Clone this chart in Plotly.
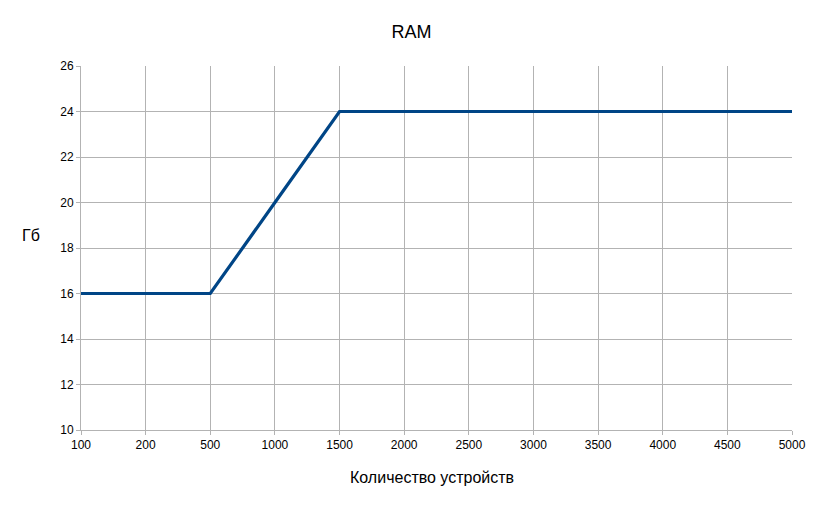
import plotly.graph_objects as go

devices = ["100", "200", "500", "1000", "1500", "2000", "2500", "3000", "3500", "4000", "4500", "5000"]
ram_gb = [16, 16, 16, 20, 24, 24, 24, 24, 24, 24, 24, 24]
y_ticks = [10, 12, 14, 16, 18, 20, 22, 24, 26]

grid = "#b3b3b3"
font = "Liberation Sans, Arial, sans-serif"

# page renders with an 8px body offset, margins compensate
L, R, T, B = 73, 39, 58, 86
W, H = 823, 508
pw = W - L - R
ph = H - T - B

fig = go.Figure(go.Scatter(
    x=devices, y=ram_gb, mode="lines",
    line=dict(color="#004586", width=3.2),
    showlegend=False, hoverinfo="x+y",
))

fig.update_layout(
    width=W, height=H,
    margin=dict(l=L, r=R, t=T, b=B),
    paper_bgcolor="white", plot_bgcolor="white",
    font=dict(family=font, size=12, color="black"),
    title=dict(text="RAM", x=403.5 / W, xanchor="center", y=1 - 24 / H, yanchor="middle",
               font=dict(size=18, family=font, color="black")),
    xaxis=dict(
        type="category", categoryorder="array", categoryarray=devices,
        range=[0, len(devices) - 1],
        showgrid=True, gridcolor=grid, gridwidth=1,
        ticks="outside", ticklen=4, tickcolor=grid,
        showline=True, linecolor=grid, linewidth=1,
        tickfont=dict(size=12, family=font, color="black"),
        zeroline=False,
    ),
    yaxis=dict(
        range=[10, 26], tickvals=y_ticks,
        showgrid=True, gridcolor=grid, gridwidth=1,
        ticks="outside", ticklen=4, tickcolor=grid,
        showline=True, linecolor=grid, linewidth=1,
        tickfont=dict(size=12, family=font, color="black"),
        zeroline=False,
    ),
    annotations=[
        dict(
            text="Гб", xref="paper", yref="paper", x=(12 - L) / pw, y=(H - B - (235 - 8)) / ph,
            xanchor="left", yanchor="middle", showarrow=False,
            font=dict(size=16, family=font, color="black"),
        ),
        dict(
            text="Количество устройств", xref="paper", yref="paper",
            x=(423.5 - L) / pw, y=-(477 - 8 - (H - B)) / ph,
            xanchor="center", yanchor="middle", showarrow=False,
            font=dict(size=16, family=font, color="black"),
        ),
    ],
)

fig.write_html("out.html")
